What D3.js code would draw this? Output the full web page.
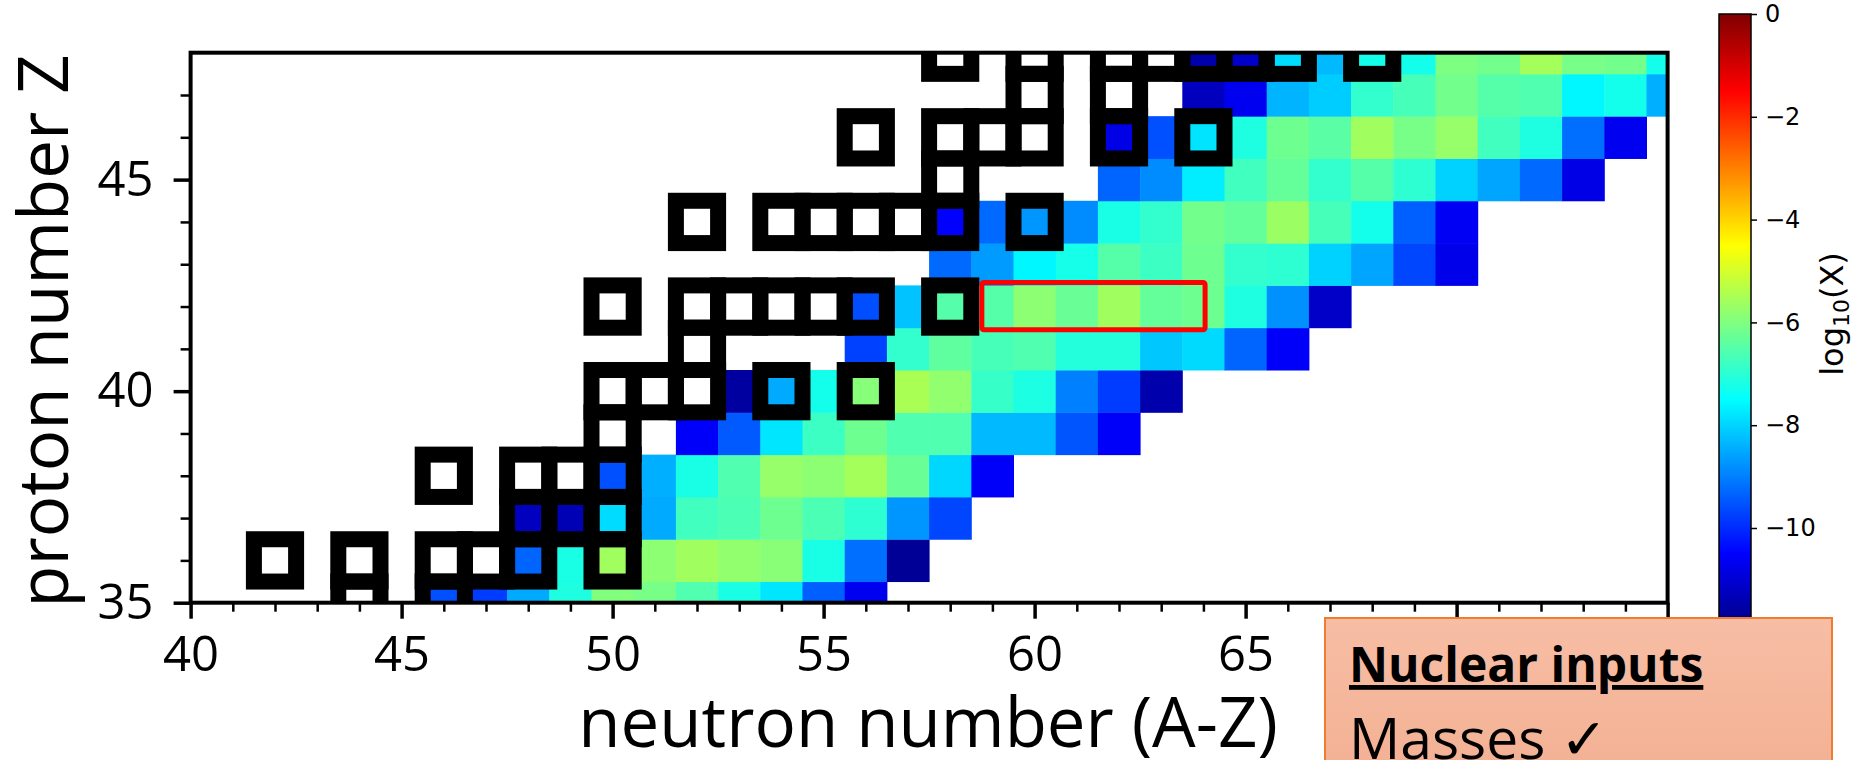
<!DOCTYPE html>
<html>
<head>
<meta charset="utf-8">
<script src="https://cdn.jsdelivr.net/npm/d3@7"></script>
<style>
  body { margin: 0; background: #fff; }
  svg { display: block; }
</style>
</head>
<body>
<div id="chart"></div>
<script>
// proton number rows, bottom to top
const protonZ = [35, 36, 37, 38, 39, 40, 41, 42, 43, 44, 45, 46, 47, 48];
// first neutron number with a value in each row
const firstN = [46, 48, 48, 50, 52, 53, 56, 56, 58, 58, 62, 62, 64, 64];
// log10(X) per row, starting at firstN
const logX = [
  [-9.56, -9.79, -8.5, -7.15, -5.97, -6.09, -6.56, -7.21, -7.79, -9.38, -10.68],
  [-9.32, -7.21, -5.62, -5.85, -5.62, -5.79, -5.9, -7.21, -9.21, -11.74],
  [-11.26, -11.38, -7.91, -8.5, -6.74, -6.62, -6.21, -6.62, -6.97, -8.74, -9.68],
  [-9.56, -8.44, -7.21, -6.56, -5.74, -5.85, -5.56, -6.26, -7.97, -10.56],
  [-10.56, -9.44, -7.79, -6.79, -6.21, -6.56, -6.56, -8.32, -8.32, -9.5, -10.56],
  [-11.62, -8.5, -7.26, -5.91, -5.5, -5.79, -6.85, -7.17, -9.0, -9.79, -11.48],
  [-9.74, -6.91, -6.38, -6.68, -6.56, -7.09, -7.09, -8.15, -7.93, -9.32, -10.56],
  [-9.58, -8.21, -6.5, -6.5, -5.85, -6.26, -5.62, -6.32, -6.21, -7.15, -8.79, -11.15],
  [-9.26, -8.68, -7.6, -7.24, -6.5, -6.79, -6.21, -6.91, -6.97, -8.03, -8.56, -9.68, -10.74],
  [-10.5, -9.26, -8.74, -8.85, -7.21, -6.91, -6.15, -6.32, -5.68, -6.68, -7.26, -9.38, -10.62],
  [-9.32, -8.85, -7.7, -6.74, -6.32, -6.91, -6.5, -6.97, -8.03, -8.56, -9.26, -10.79],
  [-10.79, -9.56, -7.82, -7.15, -6.21, -6.44, -5.62, -6.09, -5.74, -6.74, -7.15, -9.21, -10.68],
  [-11.26, -10.68, -8.38, -8.09, -6.91, -6.68, -6.15, -6.5, -6.56, -7.6, -7.26, -8.44],
  [-11.5, -11.15, -7.91, -8.32, -7.26, -7.26, -6.03, -6.15, -5.56, -6.09, -6.15, -7.26]
];
// neutron numbers of the outlined nuclei in each row
const markedN = [
  [44, 46],
  [42, 44, 46, 47, 48, 50],
  [48, 49, 50],
  [46, 48, 49, 50],
  [50],
  [50, 51, 52, 54, 56],
  [52],
  [50, 52, 53, 54, 55, 56, 58],
  [],
  [52, 54, 55, 56, 57, 58, 60],
  [58],
  [56, 58, 59, 60, 62, 64],
  [60, 62],
  [58, 60, 62, 63, 64, 65, 66, 68]
];
// highlighted region (red box)
const focusN = [58.75, 64.04];
const focusZ = [41.45, 42.57];

const xTicks = [40, 45, 50, 55, 60, 65, 70, 75];
const xLabelled = [40, 45, 50, 55, 60, 65];   // 70 and 75 sit under the box
const yTicks = [35, 40, 45];
const cbTicks = [-10, -8, -6, -4, -2, 0];

const W = 1856, H = 760;
const plot = { left: 190.6, right: 1667.6, top: 52.7, bottom: 602.7 };

const svg = d3.select("#chart").append("svg")
  .attr("width", W)
  .attr("height", H);

svg.append("rect").attr("width", W).attr("height", H).attr("fill", "#fff");

const x = d3.scaleLinear().domain([40, 75]).range([plot.left, plot.right]);
const y = d3.scaleLinear().domain([35, 48]).range([plot.bottom, plot.top]);

// matplotlib-like jet
function jet(t) {
  const c = v => Math.max(0, Math.min(1, v));
  const r = c(Math.min(4 * t - 1.5, -4 * t + 4.5));
  const g = c(Math.min(4 * t - 0.5, -4 * t + 3.5));
  const b = c(Math.min(4 * t + 0.5, -4 * t + 2.5));
  return d3.rgb(r * 255, g * 255, b * 255).toString();
}
const color = d3.scaleSequential(jet).domain([-12, 0]);

const defs = svg.append("defs");
defs.append("clipPath").attr("id", "plot-clip")
  .append("rect")
  .attr("x", plot.left).attr("y", plot.top)
  .attr("width", plot.right - plot.left)
  .attr("height", plot.bottom - plot.top);

const cells = [];
protonZ.forEach((z, i) => {
  logX[i].forEach((v, j) => cells.push({ n: firstN[i] + j, z: z, v: v }));
});
const marks = [];
protonZ.forEach((z, i) => markedN[i].forEach(n => marks.push({ n: n, z: z })));

const field = svg.append("g").attr("clip-path", "url(#plot-clip)");

field.selectAll("rect.cell")
  .data(cells)
  .join("rect")
  .attr("class", "cell")
  .attr("x", d => x(d.n - 0.5))
  .attr("y", d => y(d.z + 0.5))
  .attr("width", d => x(d.n + 0.5) - x(d.n - 0.5) + 0.5)
  .attr("height", d => y(d.z - 0.5) - y(d.z + 0.5) + 0.5)
  .attr("fill", d => color(d.v));

field.selectAll("rect.mark")
  .data(marks)
  .join("rect")
  .attr("class", "mark")
  .attr("x", d => x(d.n - 0.5))
  .attr("y", d => y(d.z + 0.5))
  .attr("width", d => x(d.n + 0.5) - x(d.n - 0.5))
  .attr("height", d => y(d.z - 0.5) - y(d.z + 0.5))
  .attr("fill", "none")
  .attr("stroke", "#000")
  .attr("stroke-width", 16);

svg.append("rect")
  .attr("x", x(focusN[0]))
  .attr("y", y(focusZ[1]))
  .attr("width", x(focusN[1]) - x(focusN[0]))
  .attr("height", y(focusZ[0]) - y(focusZ[1]))
  .attr("rx", 2)
  .attr("fill", "none")
  .attr("stroke", "#ff0000")
  .attr("stroke-width", 5);

// axes
const tickFont = "'Open Sans', sans-serif";

svg.append("g")
  .attr("transform", "translate(0," + plot.bottom + ")")
  .call(d3.axisBottom(x).tickValues(d3.range(41, 75).filter(v => v % 5)).tickSize(9).tickFormat(""))
  .call(g => g.select(".domain").remove())
  .call(g => g.selectAll("line").attr("stroke-width", 2.5));

svg.append("g")
  .attr("transform", "translate(0," + plot.bottom + ")")
  .call(d3.axisBottom(x).tickValues(xTicks).tickSize(16).tickPadding(18)
    .tickFormat(d => xLabelled.includes(d) ? d : ""))
  .call(g => g.select(".domain").remove())
  .call(g => g.selectAll("line").attr("stroke-width", 3.5))
  .call(g => g.selectAll("text").attr("font-family", tickFont).attr("font-size", 49).attr("fill", "#000"));

svg.append("g")
  .attr("transform", "translate(" + plot.left + ",0)")
  .call(d3.axisLeft(y).tickValues(d3.range(36, 48).filter(v => v % 5)).tickSize(10).tickFormat(""))
  .call(g => g.select(".domain").remove())
  .call(g => g.selectAll("line").attr("stroke-width", 2.5));

svg.append("g")
  .attr("transform", "translate(" + plot.left + ",0)")
  .call(d3.axisLeft(y).tickValues(yTicks).tickSize(17).tickPadding(20))
  .call(g => g.select(".domain").remove())
  .call(g => g.selectAll("line").attr("stroke-width", 3.5))
  .call(g => g.selectAll("text").attr("font-family", tickFont).attr("font-size", 49).attr("fill", "#000"));

// frame
svg.append("rect")
  .attr("x", plot.left).attr("y", plot.top)
  .attr("width", plot.right - plot.left)
  .attr("height", plot.bottom - plot.top)
  .attr("fill", "none")
  .attr("stroke", "#000")
  .attr("stroke-width", 4);

// axis titles
svg.append("text")
  .attr("x", 928).attr("y", 747)
  .attr("text-anchor", "middle")
  .attr("font-family", tickFont)
  .attr("font-size", 69)
  .text("neutron number (A-Z)");

svg.append("text")
  .attr("transform", "translate(68,331) rotate(-90)")
  .attr("text-anchor", "middle")
  .attr("font-family", tickFont)
  .attr("font-size", 69)
  .text("proton number Z");

// colorbar
const cb = { x: 1719, w: 32, top: 14, bottom: 630.8 };
const cy = d3.scaleLinear().domain([-12, 0]).range([cb.bottom, cb.top]);

const grad = defs.append("linearGradient")
  .attr("id", "cb-grad")
  .attr("x1", 0).attr("y1", 1).attr("x2", 0).attr("y2", 0);
grad.selectAll("stop")
  .data(d3.range(0, 1.0001, 1 / 64))
  .join("stop")
  .attr("offset", d => d)
  .attr("stop-color", d => jet(d));

svg.append("rect")
  .attr("x", cb.x).attr("y", cb.top)
  .attr("width", cb.w).attr("height", cb.bottom - cb.top)
  .attr("fill", "url(#cb-grad)")
  .attr("stroke", "#000")
  .attr("stroke-width", 1.5);

svg.append("g")
  .attr("transform", "translate(" + (cb.x + cb.w) + ",0)")
  .call(d3.axisRight(cy).tickValues(cbTicks).tickSize(6).tickPadding(8))
  .call(g => g.select(".domain").remove())
  .call(g => g.selectAll("line").attr("stroke-width", 1.5))
  .call(g => g.selectAll("text").attr("font-family", "'DejaVu Sans', sans-serif").attr("font-size", 24).attr("fill", "#000"));

const cbLabel = svg.append("text")
  .attr("transform", "translate(1843,314) rotate(-90)")
  .attr("text-anchor", "middle")
  .attr("font-family", "'DejaVu Sans', sans-serif")
  .attr("font-size", 32);
cbLabel.append("tspan").text("log");
cbLabel.append("tspan").attr("font-size", 22).attr("dy", 6).text("10");
cbLabel.append("tspan").attr("dy", -6).text("(X)");

// annotation box
const boxGrad = defs.append("linearGradient")
  .attr("id", "box-grad")
  .attr("x1", 0).attr("y1", 0).attr("x2", 0).attr("y2", 1);
boxGrad.append("stop").attr("offset", 0).attr("stop-color", "#f7bea5");
boxGrad.append("stop").attr("offset", 1).attr("stop-color", "#f3b093");

svg.append("rect")
  .attr("x", 1325).attr("y", 618)
  .attr("width", 507).attr("height", 160)
  .attr("fill", "url(#box-grad)")
  .attr("stroke", "#ed7d31")
  .attr("stroke-width", 2);

svg.append("text")
  .attr("x", 1349).attr("y", 682)
  .attr("font-family", tickFont)
  .attr("font-weight", "bold")
  .attr("font-size", 48)
  .attr("text-decoration", "underline")
  .text("Nuclear inputs");

svg.append("text")
  .attr("x", 1349).attr("y", 759)
  .attr("font-family", tickFont)
  .attr("font-size", 57)
  .text("Masses \u2713");
</script>
</body>
</html>
